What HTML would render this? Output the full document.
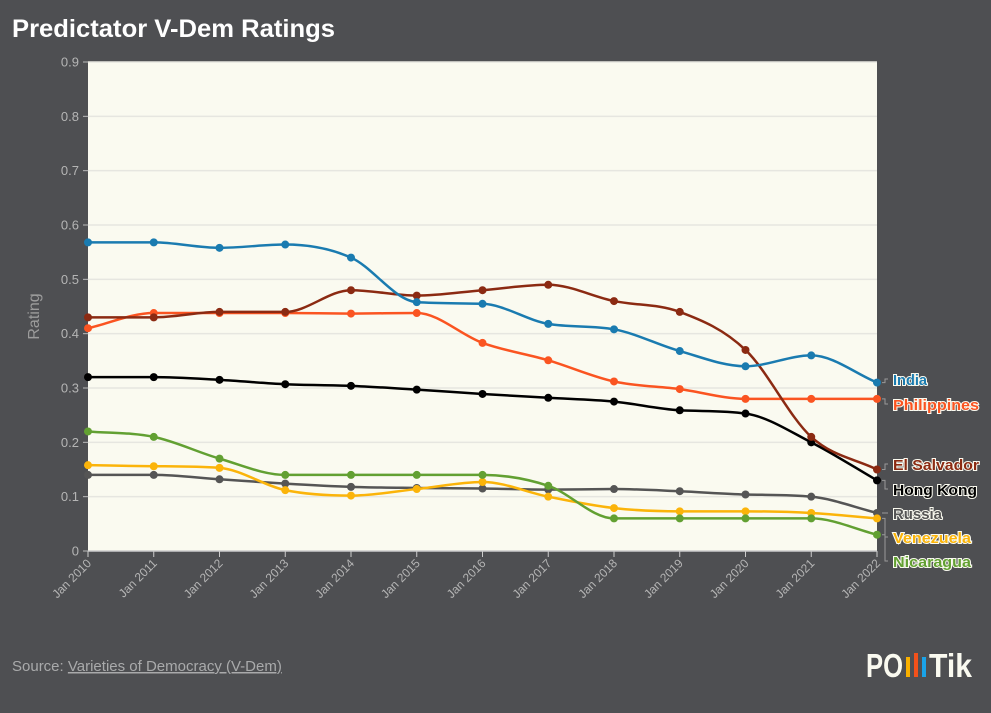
<!DOCTYPE html>
<html><head><meta charset="utf-8"><style>
html,body{margin:0;padding:0;background:#4e4f52;}
body{width:991px;height:713px;overflow:hidden;font-family:"Liberation Sans",sans-serif;}
</style></head><body>
<svg id="c" width="991" height="713" style="position:absolute;left:0;top:0">
<rect width="991" height="713" fill="#4e4f52"/>
<text x="12" y="37" fill="#fff" font-size="25" font-weight="bold" textLength="323" lengthAdjust="spacingAndGlyphs">Predictator V-Dem Ratings</text>
<text x="12" y="671" fill="#a9aaab" font-size="15">Source: <tspan text-decoration="underline">Varieties of Democracy (V-Dem)</tspan></text>
<g>
<text x="866" y="677" fill="#fafaf0" font-size="33" font-weight="bold" textLength="37" lengthAdjust="spacingAndGlyphs">PO</text>
<rect x="906" y="657" width="4" height="20" fill="#f9b000"/>
<rect x="914" y="653" width="4" height="24" fill="#f2511b"/>
<rect x="922" y="657" width="4" height="20" fill="#1aa3e8"/>
<text x="929" y="677" fill="#fafaf0" font-size="33" font-weight="bold" textLength="43" lengthAdjust="spacingAndGlyphs">Tik</text>
</g>
<rect x="88" y="62" width="789" height="489" fill="#fafaf0"/>
<g id="grid"></g><g id="axes"></g><g id="lines"></g><g id="labels"></g>
</svg>
<script>
const years=["Jan 2010","Jan 2011","Jan 2012","Jan 2013","Jan 2014","Jan 2015","Jan 2016","Jan 2017","Jan 2018","Jan 2019","Jan 2020","Jan 2021","Jan 2022"];
const yTicks=[0,0.1,0.2,0.3,0.4,0.5,0.6,0.7,0.8,0.9];
const seriesNames=["Russia","Venezuela","Nicaragua","Hong Kong","Philippines","El Salvador","India"];
const india=[.568,.568,.558,.564,.54,.458,.455,.418,.408,.368,.34,.36,.31];
const elSalvador=[.43,.43,.44,.44,.48,.47,.48,.49,.46,.44,.37,.21,.15];
const philippines=[.41,.438,.438,.438,.437,.438,.383,.351,.312,.298,.28,.28,.28];
const hongKong=[.32,.32,.315,.307,.304,.297,.289,.282,.275,.259,.253,.2,.13];
const russia=[.14,.14,.132,.124,.118,.116,.115,.113,.114,.11,.104,.1,.07];
const nicaragua=[.22,.21,.17,.14,.14,.14,.14,.12,.06,.06,.06,.06,.03];
const venezuela=[.158,.156,.153,.112,.102,.114,.127,.1,.079,.073,.073,.07,.06];
const NS="http://www.w3.org/2000/svg";
const X0=88,X1=877,Y0=551,Y1=62;
const x=i=>X0+(X1-X0)*i/(years.length-1);
const y=v=>Y0-(Y0-Y1)*v/0.9;
function mk(t,a,p){const e=document.createElementNS(NS,t);for(const k in a)e.setAttribute(k,a[k]);(p||document.getElementById('c')).appendChild(e);return e;}
const grid=document.getElementById('grid'),axes=document.getElementById('axes'),lines=document.getElementById('lines'),labels=document.getElementById('labels');
yTicks.forEach(t=>{
 if(t>0){const g=mk('line',{x1:X0,x2:X1,y1:y(t),y2:y(t),stroke:'#e6e6e0','stroke-width':1.5},grid);
 
 }
 const tk=mk('line',{x1:X0-5,x2:X0,y1:y(t),y2:y(t),stroke:'#bbb'},axes);
 
 
 const l=mk('text',{x:X0-9,y:y(t)+4.5,fill:'#b5b5b5','font-size':13,'text-anchor':'end'},axes);l.textContent=t===0?'0':t.toFixed(1);
 
 
});
const yt=mk('text',{x:0,y:0,fill:'#9c9c9c','font-size':16,'text-anchor':'middle',transform:`translate(39,${(Y0+Y1)/2+10}) rotate(-90)`},axes);yt.textContent='Rating';


const xa=mk('line',{x1:X0,x2:X1,y1:Y0,y2:Y0,stroke:'#ccc','stroke-width':1.5},axes);


years.forEach((yr,i)=>{
 const tk=mk('line',{x1:x(i),x2:x(i),y1:Y0,y2:Y0+6,stroke:'#ccc'},axes);
 
 
 const l=mk('text',{x:0,y:0,fill:'#b5b5b5','font-size':12,'text-anchor':'end',transform:`translate(${x(i)+4},${Y0+13}) rotate(-45)`},axes);l.textContent=yr;
 
 
});
function mono(pts){const n=pts.length,d=[],m=[];for(let i=0;i<n-1;i++)d.push((pts[i+1][1]-pts[i][1])/(pts[i+1][0]-pts[i][0]));
 m[0]=d[0];m[n-1]=d[n-2];for(let i=1;i<n-1;i++){m[i]=d[i-1]*d[i]<=0?0:(d[i-1]+d[i])/2;}
 for(let i=0;i<n-1;i++){if(d[i]===0){m[i]=0;m[i+1]=0;continue;}const a=m[i]/d[i],b=m[i+1]/d[i],s=a*a+b*b;if(s>9){const t=3/Math.sqrt(s);m[i]=t*a*d[i];m[i+1]=t*b*d[i];}}
 let p=`M${pts[0][0]},${pts[0][1]}`;for(let i=0;i<n-1;i++){const h=(pts[i+1][0]-pts[i][0])/3;p+=`C${pts[i][0]+h},${pts[i][1]+m[i]*h} ${pts[i+1][0]-h},${pts[i+1][1]-m[i+1]*h} ${pts[i+1][0]},${pts[i+1][1]}`;}return p;}
const series=[[russia,'#555555','russia'],[venezuela,'#fbb40a','venezuela'],[nicaragua,'#62a032','nicaragua'],[hongKong,'#000000','hong-kong'],[philippines,'#fa5421','philippines'],[elSalvador,'#8b2a12','el-salvador'],[india,'#1a7bb0','india']];
series.forEach(([vals,col,nm])=>{
 const pts=vals.map((v,i)=>[x(i),y(v)]);
 const p=mk('path',{d:mono(pts),fill:'none',stroke:col,'stroke-width':2.5},lines);
 
 
 pts.forEach(q=>{const c=mk('circle',{cx:q[0],cy:q[1],r:4,fill:col},lines);
 
 });
});
const labs=[['India','#1a7bb0',379,india,34],['Philippines','#fa5421',404,philippines,86],['El Salvador','#8b2a12',464,elSalvador,86],['Hong Kong','#000',489,hongKong,84],['Russia','#555',513,russia,49],['Venezuela','#fbb40a',537,venezuela,78],['Nicaragua','#62a032',561,nicaragua,78]];
labs.forEach(([n,col,ly,vals,w])=>{
 const yy=y(vals[vals.length-1]);
 const c=mk('path',{d:`M882,${yy} L885,${yy} L885,${ly} L888,${ly}`,fill:'none',stroke:'#999','stroke-width':1},labels);
 
 
 const t=mk('text',{x:893,y:ly+6,fill:col,'font-size':15,'font-weight':'bold',stroke:'#fafaf0','stroke-width':2,'paint-order':'stroke',textLength:w,lengthAdjust:'spacingAndGlyphs'},labels);t.textContent=n;
 
 
});
</script>
</body></html>
